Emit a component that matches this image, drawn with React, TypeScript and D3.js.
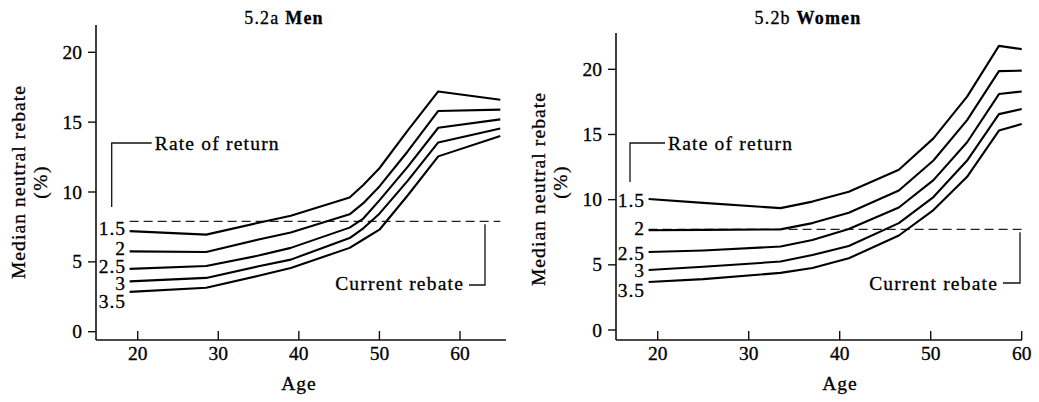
import * as d3 from 'd3'

// ages sampled along the curves (years)
const menAges = [19, 28.5, 35, 39, 46.3, 48, 50, 53.5, 57.3, 65]
const womenAges = [19, 25, 33.5, 37, 41, 46.5, 50.3, 54, 57.5, 60]

// median neutral rebate (%) by rate of return
const men15 = [7.2, 6.95, 7.8, 8.3, 9.6, 10.5, 11.7, 14.4, 17.2, 16.6]
const men20 = [5.75, 5.7, 6.6, 7.1, 8.4, 9.2, 10.4, 12.9, 15.8, 15.9]
const men25 = [4.5, 4.7, 5.45, 6.0, 7.45, 8.1, 9.4, 11.8, 14.6, 15.2]
const men30 = [3.6, 3.85, 4.68, 5.16, 6.7, 7.4, 8.45, 10.8, 13.55, 14.55]
const men35 = [2.85, 3.15, 4.0, 4.56, 6.0, 6.6, 7.3, 9.75, 12.55, 14.0]

const women15 = [10.05, 9.75, 9.35, 9.85, 10.6, 12.3, 14.7, 17.9, 21.8, 21.55]
const women20 = [7.65, 7.68, 7.72, 8.2, 9.0, 10.7, 13.0, 16.1, 19.86, 19.9]
const women25 = [5.98, 6.1, 6.4, 6.9, 7.75, 9.4, 11.5, 14.4, 18.1, 18.3]
const women30 = [4.6, 4.85, 5.25, 5.75, 6.45, 8.2, 10.2, 13.0, 16.56, 16.95]
const women35 = [3.68, 3.9, 4.38, 4.75, 5.5, 7.25, 9.2, 11.75, 15.3, 15.8]

const rateLabels = ['1.5', '2', '2.5', '3', '3.5']
const menRebate = 7.9
const womenRebate = 7.72

const xTicks = [20, 30, 40, 50, 60]
const yTicks = [0, 5, 10, 15, 20]

const FONT = '"Liberation Serif", "Times New Roman", serif'

const panels = [
  {
    id: 'men',
    prefix: '5.2a ',
    bold: 'Men',
    ages: menAges,
    series: [men15, men20, men25, men30, men35],
    rebate: menRebate,
    xRange: [137.7, 460],
    yRange: [331.7, 52.3],
    spineX: 96,
    spineTop: 25,
    spineRight: 506,
    titleX: 284,
    yLabelX: 25,
    yLabelY: 182,
    pctX: 47,
    ageX: 299,
    ror: { x: 111.7, top: 143, bottom: 207, end: 151.7 },
    cur: { x: 485, y: 285, end: 469 },
    labelX: 126,
    labelDy: [4, 4, 4, 9, 16],
  },
  {
    id: 'women',
    prefix: '5.2b ',
    bold: 'Women',
    ages: womenAges,
    series: [women15, women20, women25, women30, women35],
    rebate: womenRebate,
    xRange: [657.7, 1021.7],
    yRange: [330, 69.3],
    spineX: 616,
    spineTop: 33,
    spineRight: 1022,
    titleX: 808,
    yLabelX: 545,
    yLabelY: 189,
    pctX: 567,
    ageX: 840,
    ror: { x: 630, top: 143, bottom: 182, end: 665 },
    cur: { x: 1020, y: 283, end: 1003 },
    labelX: 645,
    labelDy: [8, 5, 8, 7, 15],
  },
]

const BASE_Y = 340

function Panel({ p }: { p: any }) {
  const x = d3.scaleLinear().domain([20, 60]).range(p.xRange)
  const y = d3.scaleLinear().domain([0, 20]).range(p.yRange)
  const line = d3
    .line<number>()
    .x((_, i) => x(p.ages[i]))
    .y((d) => y(d))
  const a0 = p.ages[0]
  const a1 = p.ages[p.ages.length - 1]
  const ry = y(p.rebate)

  return (
    <g>
      <text x={p.titleX} y={24} textAnchor="middle" fontSize={18} letterSpacing={1.2}>
        {p.prefix}
        <tspan fontWeight="bold">{p.bold}</tspan>
      </text>

      {/* spines */}
      <line x1={p.spineX} x2={p.spineX} y1={p.spineTop} y2={BASE_Y} stroke="#111" strokeWidth={1.6} />
      <line x1={p.spineX} x2={p.spineRight} y1={BASE_Y} y2={BASE_Y} stroke="#111" strokeWidth={1.6} />

      {yTicks.map((t) => (
        <g key={'y' + t}>
          <line x1={p.spineX - 8} x2={p.spineX} y1={y(t)} y2={y(t)} stroke="#111" strokeWidth={1.4} />
          <text x={p.spineX - 14} y={y(t) + 6.5} textAnchor="end" fontSize={19.5}>
            {t}
          </text>
        </g>
      ))}
      {xTicks.map((t) => (
        <g key={'x' + t}>
          <line x1={x(t)} x2={x(t)} y1={BASE_Y - 9} y2={BASE_Y} stroke="#111" strokeWidth={1.4} />
          <text x={x(t)} y={360} textAnchor="middle" fontSize={19.5}>
            {t}
          </text>
        </g>
      ))}

      <text
        transform={`translate(${p.yLabelX},${p.yLabelY}) rotate(-90)`}
        textAnchor="middle"
        fontSize={19.5}
        letterSpacing={1.1}
      >
        Median neutral rebate
      </text>
      <text
        transform={`translate(${p.pctX},${182}) rotate(-90)`}
        textAnchor="middle"
        fontSize={19.5}
        letterSpacing={1.5}
      >
        (%)
      </text>
      <text x={p.ageX} y={390} textAnchor="middle" fontSize={19.5} letterSpacing={1}>
        Age
      </text>

      {/* current rebate */}
      <line
        x1={x(a0)}
        x2={x(a1)}
        y1={ry}
        y2={ry}
        stroke="#222"
        strokeWidth={1.2}
        strokeDasharray="9,5"
      />
      <path
        d={`M${p.cur.x},${ry + 3}V${p.cur.y}H${p.cur.end}`}
        fill="none"
        stroke="#111"
        strokeWidth={1.3}
      />
      <text x={p.cur.end - 5} y={290} textAnchor="end" fontSize={19.5} letterSpacing={1.2}>
        Current rebate
      </text>

      {/* rate of return */}
      <path
        d={`M${p.ror.x},${p.ror.bottom}V${p.ror.top}H${p.ror.end}`}
        fill="none"
        stroke="#111"
        strokeWidth={1.3}
      />
      <text x={p.ror.end + 3} y={150} fontSize={19.5} letterSpacing={1.2}>
        Rate of return
      </text>

      {p.series.map((s: number[], i: number) => (
        <g key={rateLabels[i]}>
          <path d={line(s) || ''} fill="none" stroke="#000" strokeWidth={2.1} strokeLinejoin="round" />
          <text
            x={p.labelX}
            y={y(s[0]) + p.labelDy[i]}
            textAnchor="end"
            fontSize={19.5}
            letterSpacing={1}
          >
            {rateLabels[i]}
          </text>
        </g>
      ))}
    </g>
  )
}

export default function App() {
  return (
    <svg
      width={1039}
      height={402}
      style={{ position: 'absolute', left: 0, top: 0, background: '#fff' }}
      fontFamily={FONT}
      fill="#000"
    >
      <rect width={1039} height={402} fill="#fff" />
      <g stroke="#000" strokeWidth={0.3}>
        {panels.map((p) => (
          <Panel key={p.id} p={p} />
        ))}
      </g>
    </svg>
  )
}
